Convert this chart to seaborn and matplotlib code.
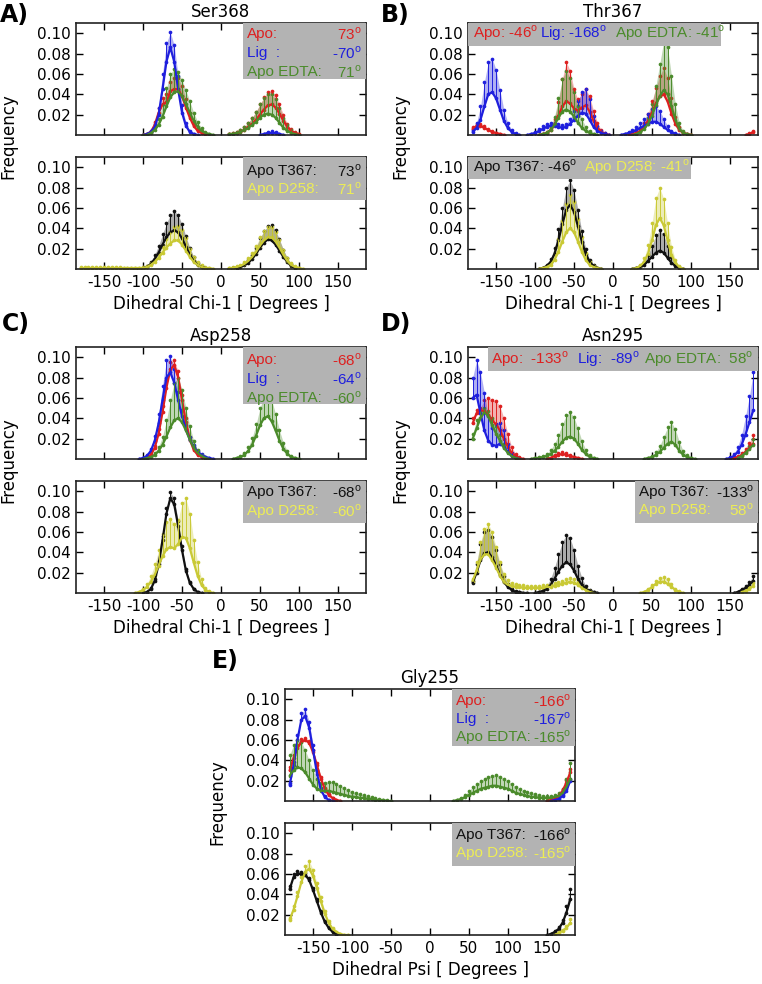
import numpy as np
import pandas as pd
import seaborn as sns
import matplotlib.pyplot as plt
from matplotlib.patches import Rectangle

sns.set_style("ticks")
plt.rcParams["font.family"] = ["DejaVu Sans"]
plt.rcParams["axes.unicode_minus"] = False
plt.rcParams["mathtext.fontset"] = "custom"
plt.rcParams["mathtext.rm"] = "Liberation Sans"
for key in ["text.color", "axes.labelcolor", "xtick.color", "ytick.color"]:
    plt.rcParams[key] = "black"

STEP = 5  # bin width in degrees
# series = list of segments (first bin angle, mean, mean + error), values in units of 1e-3

# A) Ser368
ser_apo = [(-100, [0, 1, 3, 10, 22, 30, 32, 43, 45, 45, 38, 27, 17, 9, 4, 2, 1, 0],
                  [0, 1, 4, 13, 27, 36, 40, 52, 56, 56, 48, 35, 22, 12, 6, 3, 1, 0]),
           (10, [1, 1, 2, 3, 5, 8, 11, 15, 20, 25, 29, 30, 27, 21, 14, 8, 4, 2, 1],
                [1, 2, 3, 5, 8, 12, 17, 23, 30, 37, 42, 43, 39, 30, 20, 11, 6, 3, 1])]
ser_lig = [(-100, [0, 1, 3, 8, 20, 45, 72, 86, 72, 45, 22, 9, 3, 1, 0],
                  [0, 1, 4, 11, 27, 60, 90, 101, 88, 58, 29, 12, 4, 1, 0]),
           (50, [0, 1, 2, 2, 2, 1, 0], [0, 1, 3, 4, 3, 1, 0])]
ser_edta = [(-100, [0, 0, 2, 5, 10, 18, 28, 37, 42, 43, 38, 30, 22, 14, 8, 4, 2, 1, 0],
                   [0, 1, 3, 8, 16, 30, 46, 60, 65, 62, 54, 44, 33, 22, 13, 7, 3, 1, 0]),
            (10, [1, 1, 2, 3, 5, 7, 10, 13, 17, 20, 21, 20, 17, 12, 7, 4, 2, 1, 0],
                 [1, 2, 3, 5, 8, 12, 17, 23, 30, 36, 40, 40, 35, 27, 17, 10, 5, 2, 0])]
ser_t367 = [(-110, [0, 0, 1, 2, 5, 10, 16, 24, 31, 36, 38, 36, 30, 22, 14, 8, 4, 2, 1, 0],
                   [0, 0, 1, 3, 7, 14, 23, 34, 45, 53, 57, 53, 44, 32, 21, 12, 6, 3, 1, 0]),
            (10, [0, 1, 1, 2, 4, 6, 10, 15, 21, 26, 29, 28, 24, 18, 12, 7, 3, 1, 0],
                 [0, 1, 2, 3, 5, 9, 14, 21, 30, 37, 42, 43, 38, 29, 19, 11, 5, 2, 0])]
ser_d258 = [(-180, [1, 1, 1, 1, 1, 1, 1, 1, 1, 1, 1, 1, 1, 1, 1, 1,
                    1, 2, 4, 7, 11, 16, 21, 25, 28, 28, 24, 18, 12, 7, 4, 2, 1, 1, 0],
                   [2, 2, 2, 2, 2, 2, 2, 2, 2, 2, 2, 1, 1, 1, 1, 1,
                    2, 3, 6, 10, 15, 22, 29, 36, 41, 42, 38, 30, 20, 12, 7, 4, 2, 1, 0]),
            (10, [1, 1, 2, 3, 5, 8, 12, 17, 23, 28, 31, 31, 27, 21, 14, 8, 4, 2, 1, 0],
                 [1, 2, 3, 4, 7, 11, 16, 23, 31, 37, 41, 41, 36, 28, 19, 11, 6, 3, 1, 0])]

# B) Thr367
thr_apo = [(-180, [6, 9, 9, 7, 5, 3, 2, 1, 0], [8, 11, 11, 9, 6, 4, 2, 1, 0]),
           (-95, [0, 1, 2, 5, 10, 19, 28, 33, 31, 26, 24, 27, 29, 23, 14, 7, 3, 1, 0],
                 [0, 1, 3, 7, 16, 32, 55, 72, 63, 45, 35, 40, 45, 38, 24, 12, 5, 2, 0]),
           (20, [0, 1, 2, 4, 8, 14, 22, 31, 38, 40, 33, 21, 11, 5, 2, 1, 0],
                [0, 1, 3, 6, 12, 21, 33, 46, 58, 66, 56, 36, 18, 8, 3, 1, 0]),
           (170, [0, 1, 3], [0, 2, 4])]
thr_lig = [(-180, [3, 7, 15, 28, 40, 42, 36, 25, 14, 7, 3, 1, 0],
                  [5, 12, 28, 52, 72, 75, 64, 44, 25, 12, 5, 2, 0]),
           (-110, [0, 1, 2, 4, 6, 8, 9, 9, 8, 7, 8, 11, 15, 19, 22, 21, 15, 8, 4, 2, 1, 0],
                  [0, 1, 3, 6, 9, 11, 12, 12, 11, 10, 11, 16, 24, 33, 42, 45, 35, 19, 9, 4, 2, 0]),
           (10, [0, 1, 2, 3, 5, 7, 9, 11, 13, 13, 11, 8, 5, 3, 1, 0],
                [0, 1, 3, 5, 8, 12, 16, 21, 26, 28, 24, 16, 9, 4, 2, 0])]
thr_edta = [(-95, [0, 1, 2, 5, 10, 17, 23, 25, 23, 18, 12, 7, 4, 2, 1, 0],
                  [0, 1, 3, 8, 18, 36, 55, 63, 56, 42, 28, 16, 8, 4, 1, 0]),
            (25, [0, 1, 3, 6, 11, 19, 29, 38, 44, 40, 28, 15, 6, 2, 1, 0],
                 [0, 1, 4, 9, 17, 30, 48, 70, 92, 86, 58, 30, 12, 4, 1, 0])]
thr_t367 = [(-95, [0, 1, 3, 7, 15, 28, 44, 58, 63, 56, 42, 27, 15, 7, 3, 1, 0],
                  [0, 1, 4, 10, 21, 39, 60, 80, 87, 78, 58, 37, 20, 9, 4, 1, 0]),
            (25, [0, 1, 2, 4, 8, 12, 16, 18, 16, 11, 6, 3, 1, 0],
                 [0, 1, 3, 7, 14, 23, 33, 38, 34, 23, 12, 5, 2, 0])]
thr_d258 = [(-95, [0, 1, 2, 4, 9, 17, 27, 36, 40, 36, 27, 17, 9, 4, 2, 1, 0],
                  [0, 1, 3, 7, 15, 29, 47, 64, 73, 66, 49, 31, 16, 7, 3, 1, 0]),
            (25, [0, 1, 3, 7, 15, 28, 43, 50, 43, 28, 14, 6, 2, 0],
                 [0, 1, 4, 11, 24, 45, 70, 80, 69, 45, 22, 9, 3, 0])]

# C) Asp258
asp_apo = [(-100, [0, 1, 4, 11, 25, 46, 70, 88, 92, 80, 58, 36, 19, 9, 4, 2, 1, 0],
                  [0, 1, 5, 13, 29, 52, 78, 95, 97, 86, 63, 40, 22, 11, 5, 2, 1, 0])]
asp_lig = [(-105, [0, 1, 3, 8, 18, 35, 58, 80, 85, 75, 58, 42, 29, 19, 12, 7, 4, 2, 1, 0],
                  [0, 1, 4, 10, 23, 44, 72, 97, 101, 88, 66, 48, 33, 22, 14, 8, 5, 2, 1, 0])]
asp_edta = [(-100, [0, 1, 2, 4, 8, 14, 22, 31, 38, 40, 36, 28, 19, 11, 6, 3, 1, 0],
                   [0, 1, 3, 6, 12, 22, 38, 58, 75, 80, 68, 50, 32, 18, 9, 4, 2, 0]),
            (15, [0, 1, 2, 4, 8, 14, 23, 33, 40, 42, 37, 28, 18, 10, 5, 2, 1, 0],
                 [0, 1, 3, 6, 12, 21, 34, 50, 61, 65, 58, 44, 28, 16, 8, 3, 1, 0])]
asp_t367 = [(-100, [0, 1, 4, 12, 28, 52, 78, 93, 87, 66, 42, 22, 10, 4, 1, 0],
                   [0, 1, 5, 14, 31, 56, 83, 99, 93, 71, 46, 24, 11, 4, 1, 0])]
asp_d258 = [(-110, [0, 1, 3, 6, 11, 18, 27, 36, 43, 45, 44, 48, 55, 54, 44, 30, 17, 8, 3, 1, 0],
                   [0, 1, 4, 9, 17, 28, 42, 58, 70, 73, 68, 72, 88, 93, 78, 52, 30, 14, 5, 2, 0])]

# D) Asn295
asn_apo = [(-180, [35, 45, 48, 47, 43, 38, 34, 28, 20, 12, 6, 3, 1, 0],
                  [40, 48, 50, 58, 60, 58, 57, 52, 40, 25, 12, 5, 2, 0]),
           (-85, [0, 1, 3, 4, 5, 4, 3, 2, 1, 0], [0, 1, 4, 6, 7, 6, 4, 2, 1, 0]),
           (150, [0, 1, 2, 4, 7, 11, 15], [0, 1, 3, 6, 10, 16, 24])]
asn_lig = [(-180, [60, 63, 45, 28, 18, 14, 13, 15, 12, 7, 3, 1, 0],
                  [80, 97, 85, 65, 42, 30, 34, 35, 28, 15, 6, 2, 0]),
           (145, [0, 1, 3, 7, 14, 24, 36, 48], [0, 2, 5, 12, 24, 42, 62, 85])]
asn_edta = [(-180, [20, 30, 40, 46, 42, 33, 25, 18, 11, 6, 3, 1, 0],
                   [25, 38, 47, 50, 47, 40, 32, 24, 15, 8, 4, 1, 0]),
            (-105, [0, 1, 1, 2, 3, 5, 8, 12, 17, 21, 22, 20, 15, 9, 5, 2, 1, 0],
                   [0, 1, 2, 3, 5, 9, 15, 24, 34, 43, 46, 41, 30, 18, 9, 4, 1, 0]),
            (40, [0, 1, 2, 4, 7, 11, 15, 17, 14, 8, 4, 2, 1, 0],
                 [0, 1, 3, 7, 13, 22, 31, 36, 29, 17, 8, 4, 1, 0]),
            (160, [1, 3, 6, 10, 14], [1, 4, 8, 13, 20])]
asn_t367 = [(-180, [10, 20, 32, 39, 40, 35, 27, 18, 11, 6, 3, 1, 1, 0, 0],
                   [12, 28, 48, 60, 62, 55, 42, 28, 17, 9, 4, 2, 1, 0, 0]),
            (-100, [0, 1, 2, 4, 8, 14, 21, 27, 30, 28, 22, 14, 8, 4, 2, 1, 0],
                   [0, 1, 3, 7, 14, 25, 38, 50, 57, 54, 42, 27, 15, 7, 3, 1, 0]),
            (155, [0, 1, 3, 5, 8, 12], [0, 1, 4, 7, 11, 17])]
asn_d258 = [(-180, [12, 22, 33, 38, 38, 32, 25, 17, 11, 8, 7, 6, 6, 5, 5, 5, 5, 5, 5, 6, 6, 7,
                    8, 9, 10, 11, 10, 8, 5, 3, 1, 0],
                   [14, 30, 50, 63, 68, 60, 45, 30, 19, 13, 10, 9, 8, 8, 7, 7, 7, 7, 8, 8, 9, 10,
                    11, 12, 14, 15, 14, 11, 7, 4, 2, 0]),
            (35, [0, 1, 3, 6, 9, 11, 11, 9, 6, 3, 1, 0], [0, 1, 4, 8, 12, 15, 16, 14, 9, 4, 2, 0]),
            (165, [1, 2, 4, 7], [1, 3, 6, 10])]

# E) Gly255
gly_apo = [(-180, [30, 42, 52, 58, 60, 57, 48, 35, 22, 12, 6, 3, 1, 0],
                  [33, 45, 55, 61, 62, 59, 50, 37, 24, 13, 7, 3, 1, 0]),
           (150, [0, 1, 2, 5, 10, 18, 28], [0, 1, 3, 6, 12, 21, 31])]
gly_lig = [(-180, [16, 35, 60, 80, 83, 72, 50, 27, 11, 4, 1, 0],
                  [18, 38, 65, 86, 90, 78, 55, 30, 13, 5, 1, 0]),
           (155, [0, 1, 2, 5, 10, 20], [0, 1, 3, 6, 12, 22])]
gly_edta = [(-180, [25, 30, 33, 32, 28, 22, 16, 12, 10, 10, 10, 9, 8, 7, 6, 5, 4, 4, 3, 3, 2, 2,
                    1, 1, 1, 0, 0],
                   [45, 55, 60, 58, 50, 40, 30, 22, 18, 18, 19, 19, 17, 15, 13, 11, 9, 8, 7, 6, 5,
                    4, 3, 2, 1, 1, 0]),
            (30, [0, 1, 2, 4, 6, 8, 10, 12, 13, 14, 15, 15, 14, 13, 12, 10, 8, 7, 6, 5, 4, 4, 3,
                  3, 3, 3, 4, 5, 8, 14, 22],
                 [0, 1, 3, 6, 10, 14, 17, 20, 22, 24, 25, 26, 24, 22, 20, 17, 14, 12, 10, 9, 8, 7,
                  6, 5, 5, 5, 6, 8, 12, 22, 37])]
gly_t367 = [(-180, [45, 57, 60, 60, 59, 54, 44, 33, 22, 13, 7, 3, 1, 0],
                   [48, 60, 63, 62, 61, 56, 46, 35, 24, 14, 8, 4, 1, 0]),
            (150, [0, 1, 3, 6, 12, 22, 35], [0, 1, 4, 8, 15, 28, 45])]
gly_d258 = [(-180, [15, 25, 38, 52, 62, 65, 58, 46, 33, 21, 12, 6, 3, 1, 0, 0],
                   [17, 28, 42, 57, 68, 73, 64, 51, 37, 24, 14, 7, 3, 1, 0, 0]),
            (160, [0, 2, 4, 7, 12], [0, 3, 5, 9, 16])]

RED, BLUE, GREEN = "#dd2020", "#1f1fdd", "#4b8b2b"
BLACK, YELLOW, YELLOW_TXT = "#111111", "#c9c935", "#eded55"
BOX = "#b3b3b3"
DEG = r"$^{\mathrm{o}}$"
BOX_FS = 11

W, H = 762, 984
AX_W, AX_H, GAP = 290, 112, 22

fig = plt.figure(figsize=(W / 100, H / 100), dpi=100)


def add_ax(left, top):
    return fig.add_axes([left / W, 1 - (top + AX_H) / H, AX_W / W, AX_H / H])


def draw_series(ax, segments, color):
    for x0, mean, up in segments:
        df = pd.DataFrame({"mean": np.array(mean) / 1000, "upper": np.array(up) / 1000})
        df["angle"] = x0 + STEP * np.arange(len(df))
        ax.fill_between(df["angle"], df["mean"], df["upper"], color=color, alpha=0.35, lw=0)
        ax.vlines(df["angle"], df["mean"], df["upper"], color=color, lw=0.7)
        sns.lineplot(data=df, x="angle", y="mean", color=color, lw=1.6, ax=ax)
        sns.scatterplot(data=df, x="angle", y="upper", color=color, s=7, linewidth=0, ax=ax)
        sns.scatterplot(data=df, x="angle", y="mean", color=color, s=7, linewidth=0, ax=ax)


def style_ax(ax, show_x):
    ax.set_xlim(-186, 186)
    ax.set_ylim(0, 0.11)
    ax.set_xticks(range(-150, 151, 50))
    ax.set_yticks([0.02, 0.04, 0.06, 0.08, 0.10])
    ax.yaxis.set_major_formatter("{x:.2f}")
    ax.tick_params(direction="in", top=True, right=True, length=5, width=1,
                   labelsize=11, pad=4, labelbottom=show_x)
    ax.set_xlabel("")
    ax.set_ylabel("")
    for s in ax.spines.values():
        s.set_linewidth(1.2)
        s.set_color("#222222")


def make_panel(letter, letter_xy, title, left, top, xlabel, top_series, bottom_series):
    ax1 = add_ax(left, top)
    ax2 = add_ax(left, top + AX_H + GAP)
    for segs, color in top_series:
        draw_series(ax1, segs, color)
    for segs, color in bottom_series:
        draw_series(ax2, segs, color)
    style_ax(ax1, False)
    style_ax(ax2, True)
    ax1.set_title(title, fontsize=12, pad=4)
    ax2.set_xlabel(xlabel, fontsize=12, labelpad=4)
    fig.text(letter_xy[0] / W, 1 - letter_xy[1] / H, letter, fontsize=17,
             fontweight="bold", ha="left", va="center")
    fig.text((left - 68) / W, 1 - (top + AX_H + 1) / H, "Frequency", fontsize=12,
             rotation=90, ha="center", va="center")
    return ax1, ax2


def stack_box(ax, x0, height, rows, offsets):
    ax.add_patch(Rectangle((x0, 1 - height / AX_H), 1 - x0, height / AX_H,
                           transform=ax.transAxes, facecolor=BOX, edgecolor="none", zorder=5))
    for (label, value, color), off in zip(rows, offsets):
        y = 1 - off / AX_H
        ax.text(x0 + 4 / AX_W, y, label, color=color, fontsize=BOX_FS, family="Liberation Sans",
                ha="left", va="center", transform=ax.transAxes, zorder=6)
        ax.text(1 - 4 / AX_W, y, value + DEG, color=color, fontsize=BOX_FS,
                family="Liberation Sans", ha="right", va="center",
                transform=ax.transAxes, zorder=6)


def line_box(ax, x0, x1, height, entries, offset):
    ax.add_patch(Rectangle((x0, 1 - height / AX_H), x1 - x0, height / AX_H,
                           transform=ax.transAxes, facecolor=BOX, edgecolor="none", zorder=5))
    for text, color, xpos in entries:
        ax.text(xpos, 1 - offset / AX_H, text + DEG, color=color, fontsize=BOX_FS,
                family="Liberation Sans", ha="left", va="center",
                transform=ax.transAxes, zorder=6)


chi = "Dihedral Chi-1 [ Degrees ]"

a1, a2 = make_panel("A)", (0, 15), "Ser368", 76, 23, chi,
                    [(ser_apo, RED), (ser_lig, BLUE), (ser_edta, GREEN)],
                    [(ser_t367, BLACK), (ser_d258, YELLOW)])
stack_box(a1, 0.576, 56, [("Apo:", "73", RED), ("Lig  :", "-70", BLUE),
                          ("Apo EDTA:", "71", GREEN)], [11, 30, 49])
stack_box(a2, 0.576, 43, [("Apo T367:", "73", BLACK), ("Apo D258:", "71", YELLOW_TXT)], [14, 32])

b1, b2 = make_panel("B)", (381, 15), "Thr367", 468, 23, chi,
                    [(thr_apo, RED), (thr_lig, BLUE), (thr_edta, GREEN)],
                    [(thr_t367, BLACK), (thr_d258, YELLOW)])
line_box(b1, 0.0, 0.872, 23, [("Apo: -46", RED, 0.016), ("Lig: -168", BLUE, 0.248),
                              ("Apo EDTA: -41", GREEN, 0.507)], 10)
line_box(b2, 0.0, 0.77, 22, [("Apo T367: -46", BLACK, 0.016),
                             ("Apo D258: -41", YELLOW_TXT, 0.40)], 10)

c1, c2 = make_panel("C)", (2, 324), "Asp258", 76, 347, chi,
                    [(asp_apo, RED), (asp_lig, BLUE), (asp_edta, GREEN)],
                    [(asp_t367, BLACK), (asp_d258, YELLOW)])
stack_box(c1, 0.576, 57, [("Apo:", "-68", RED), ("Lig  :", "-64", BLUE),
                          ("Apo EDTA:", "-60", GREEN)], [13, 32, 51])
stack_box(c2, 0.576, 42, [("Apo T367:", "-68", BLACK), ("Apo D258:", "-60", YELLOW_TXT)], [11, 30])

d1, d2 = make_panel("D)", (381, 324), "Asn295", 468, 347, chi,
                    [(asn_apo, RED), (asn_lig, BLUE), (asn_edta, GREEN)],
                    [(asn_t367, BLACK), (asn_d258, YELLOW)])
line_box(d1, 0.069, 1.0, 24, [("Apo:  -133", RED, 0.079), ("Lig:  -89", BLUE, 0.375),
                              ("Apo EDTA:  58", GREEN, 0.608)], 12)
stack_box(d2, 0.577, 42, [("Apo T367:", "-133", BLACK), ("Apo D258:", "58", YELLOW_TXT)], [11, 29])

e1, e2 = make_panel("E)", (212, 661), "Gly255", 285, 689, "Dihedral Psi [ Degrees ]",
                    [(gly_apo, RED), (gly_lig, BLUE), (gly_edta, GREEN)],
                    [(gly_t367, BLACK), (gly_d258, YELLOW)])
stack_box(e1, 0.576, 57, [("Apo:", "-166", RED), ("Lig  :", "-167", BLUE),
                          ("Apo EDTA:", "-165", GREEN)], [12, 30, 48])
stack_box(e2, 0.576, 43, [("Apo T367:", "-166", BLACK), ("Apo D258:", "-165", YELLOW_TXT)], [12, 30])

fig.savefig("out.png", dpi=100)
